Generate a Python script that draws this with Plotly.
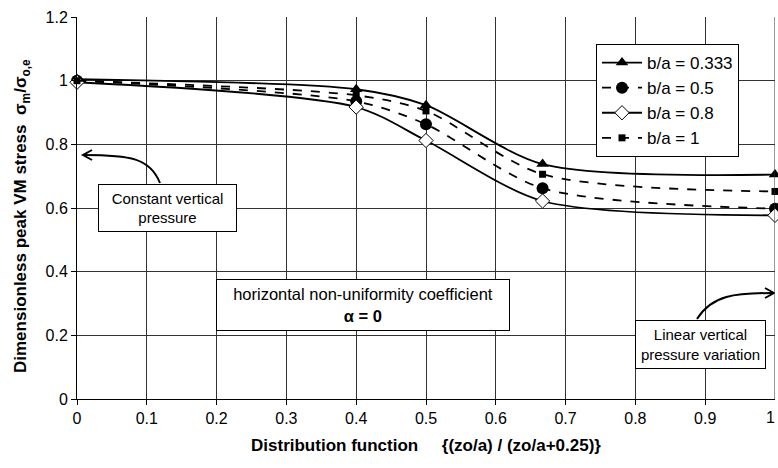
import plotly.graph_objects as go

x_vals = [0, 0.4, 0.5, 0.667, 1.0]
s_0333 = [1.005, 0.973, 0.923, 0.738, 0.705]
s_05 = [1.0, 0.935, 0.863, 0.662, 0.598]
s_08 = [0.995, 0.917, 0.812, 0.622, 0.577]
s_1 = [1.0, 0.954, 0.905, 0.706, 0.652]

series_names = ["b/a = 0.333", "b/a = 0.5", "b/a = 0.8", "b/a = 1"]
x_ticks = [0, 0.1, 0.2, 0.3, 0.4, 0.5, 0.6, 0.7, 0.8, 0.9, 1]
x_tick_text = ["0", "0.1", "0.2", "0.3", "0.4", "0.5", "0.6", "0.7", "0.8", "0.9", "1"]
y_ticks = [0, 0.2, 0.4, 0.6, 0.8, 1.0, 1.2]
y_tick_text = ["0", "0.2", "0.4", "0.6", "0.8", "1", "1.2"]

W, H = 778, 468
# plot area in screen pixels: x 77..775, y 17..399
SX0, SX1, SY0, SY1 = 77, 775, 17, 399
ML, MR, MT, MB = SX0, W - SX1, SY0, H - SY1
XR = (0, 1)
YR = (0, 1.2)
pw = SX1 - SX0
ph = SY1 - SY0

def px2x(p):
    return XR[0] + (p - SX0) / pw * (XR[1] - XR[0])

def px2y(p):
    return YR[0] + (SY1 - p) / ph * (YR[1] - YR[0])

def px2paperx(p):
    return (p - SX0) / pw

def px2papery(p):
    return (SY1 - p) / ph

FONT = "Liberation Sans, Arial, sans-serif"

fig = go.Figure()
styles = [
    (s_0333, "solid", dict(symbol="triangle-up", size=11, color="black")),
    (s_05, "dash", dict(symbol="circle", size=12, color="black")),
    (s_08, "solid", dict(symbol="diamond", size=11, color="white", line=dict(color="black", width=1))),
    (s_1, "dash", dict(symbol="square", size=7, color="black")),
]
for name, (ys, dash, mk) in zip(series_names, styles):
    fig.add_trace(go.Scatter(
        x=x_vals, y=ys, name=name, mode="lines+markers",
        line=dict(color="black", width=1.8, dash=dash, shape="spline", smoothing=0.8),
        marker=mk, legendgroup=name, cliponaxis=False,
    ))

def path_from_px(cmds):
    out = []
    for c in cmds:
        if isinstance(c, str):
            out.append(c)
        else:
            out.append(f"{px2x(c[0]):.5f},{px2y(c[1]):.5f}")
    return " ".join(out)

# curved arrows
arrow1 = path_from_px(["M", (160, 183), "C", (150, 158), (130, 155), (84, 155)])
head1 = path_from_px(["M", (92, 150), "L", (83, 155), "L", (92, 160)])
arrow2 = path_from_px(["M", (697, 319), "C", (712, 295), (735, 293), (773, 293)])
head2 = path_from_px(["M", (765, 288), "L", (774, 293), "L", (765, 298)])
for p in [arrow1, head1, arrow2, head2]:
    fig.add_shape(type="path", path=p, xref="x", yref="y",
                  line=dict(color="black", width=2))

fig.add_annotation(x=px2x(167.5), y=px2y(208), xref="x", yref="y",
                   text="Constant vertical<br>pressure", showarrow=False,
                   font=dict(family=FONT, size=15, color="black"),
                   bgcolor="white", bordercolor="black", borderwidth=1,
                   width=135, height=44, align="center")
fig.add_annotation(x=px2x(363), y=px2y(305), xref="x", yref="y",
                   text="horizontal non-uniformity coefficient<br><b>α = 0</b>", showarrow=False,
                   font=dict(family=FONT, size=16.5, color="black"),
                   bgcolor="white", bordercolor="black", borderwidth=1,
                   width=290, height=48, align="center")
fig.add_annotation(x=px2x(700.5), y=px2y(344.5), xref="x", yref="y",
                   text="Linear vertical<br>pressure variation", showarrow=False,
                   font=dict(family=FONT, size=15, color="black"),
                   bgcolor="white", bordercolor="black", borderwidth=1,
                   width=127, height=45, align="center")

# y axis title as rotated text, centred where the reference puts it
fig.add_annotation(x=px2paperx(22), y=px2papery(216), xref="paper", yref="paper",
                   text="<b>Dimensionless peak VM stress  σ<sub>m</sub>/σ<sub>o,e</sub></b>",
                   textangle=-90, showarrow=False,
                   font=dict(family=FONT, size=17, color="black"),
                   xanchor="center", yanchor="middle")
# last x tick label sits at the very edge of the page
fig.add_annotation(x=1, y=px2papery(417), xref="x", yref="paper",
                   text=x_tick_text[-1], showarrow=False, xshift=2,
                   font=dict(family=FONT, size=16, color="black"),
                   xanchor="right", yanchor="middle")

fig.update_layout(
    width=W, height=H,
    margin=dict(l=ML, r=MR, t=MT, b=MB, autoexpand=False),
    paper_bgcolor="white", plot_bgcolor="white",
    font=dict(family=FONT, size=16, color="black"),
    showlegend=True,
    legend=dict(x=px2paperx(596), y=px2papery(44), xanchor="left", yanchor="top",
                bgcolor="white", bordercolor="black", borderwidth=1,
                font=dict(family=FONT, size=17, color="black"),
                tracegroupgap=0, itemwidth=40),
    xaxis=dict(range=list(XR), tickvals=x_ticks[:-1], ticktext=x_tick_text[:-1], automargin=False,
               showgrid=True, gridcolor="#333", gridwidth=1,
               showline=True, linecolor="black", linewidth=1,
               ticks="outside", ticklen=5, tickcolor="black", zeroline=False,
               tickfont=dict(family=FONT, size=16),
               title=dict(text="<b>Distribution function     {(zo/a) / (zo/a+0.25)}</b>",
                          font=dict(family=FONT, size=17), standoff=12)),
    yaxis=dict(range=list(YR), tickvals=y_ticks, ticktext=y_tick_text, automargin=False,
               showgrid=True, gridcolor="#333", gridwidth=1,
               showline=True, linecolor="black", linewidth=1,
               ticks="outside", ticklen=5, tickcolor="black", zeroline=False,
               tickfont=dict(family=FONT, size=16)),
)
# gridline and tick at x = 1 (right edge)
fig.add_shape(type="line", x0=1, x1=1, y0=0, y1=1.2, xref="x", yref="y",
              line=dict(color="#333", width=1))
fig.add_shape(type="line", x0=1, x1=1, y0=0, y1=px2y(SY1 + 5), xref="x", yref="y",
              line=dict(color="black", width=1))

fig.write_html("out.html", config={"displayModeBar": False},
               post_script="document.body.style.margin='0';document.body.style.overflow='hidden';")
